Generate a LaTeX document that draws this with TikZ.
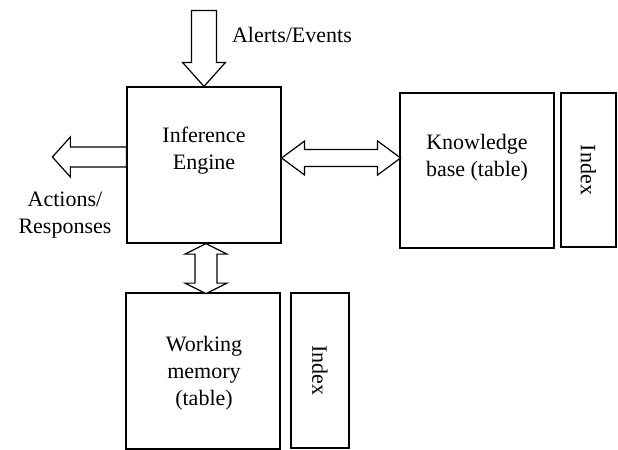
\documentclass[tikz,border=0pt]{standalone}
\usepackage{fontspec}
\setmainfont{Liberation Serif}
\begin{document}
\begin{tikzpicture}[x=0.5pt,y=-0.5pt,
  font=\fontsize{11}{13.4}\selectfont,
  box/.style={draw,line width=0.6pt,inner sep=0pt},
  fat/.style={draw,line width=0.6pt,fill=white,line join=miter}]
\useasboundingbox (0,0) rectangle (618,450);

% boxes
\node[box,minimum width=77pt,minimum height=78pt] (engine) at (204,165) {};
\node[box,minimum width=77pt,minimum height=77.5pt] (kb) at (477,170.5) {};
\node[box,minimum width=27.5pt,minimum height=77pt] (kbidx) at (588.5,170) {};
\node[box,minimum width=77pt,minimum height=78pt] (wm) at (203,371) {};
\node[box,minimum width=29pt,minimum height=77.5pt] (wmidx) at (320,370.5) {};

% texts
\node[align=center] (enginetxt) at (204,151) {Inference\\Engine};
\node[align=center] (kbtxt) at (477,158) {Knowledge\\base (table)};
\node[align=center] (wmtxt) at (204,373) {Working\\memory\\(table)};
\node[rotate=-90] (kbidxtxt) at (kbidx) {Index};
\node[rotate=-90] (wmidxtxt) at (wmidx) {Index};
\node[anchor=base west] (alerts) at (225,42) {Alerts/Events};
\node[align=center] (actions) at (65,215) {Actions/\\Responses};

% block arrows
\draw[fat] (engine.north) -- ++(-21.5,-24) -- ++(9,0) -- ++(0,-52)
  -- ++(25,0) -- ++(0,52) -- ++(9,0) -- cycle;
\draw[fat] ([yshift=4pt]engine.west) -- ++(0,-10) -- ++(-56,0) -- ++(0,-10)
  -- ++(-18,20) -- ++(18,20) -- ++(0,-10) -- ++(56,0) -- cycle;
\draw[fat] ([yshift=3.5pt]engine.east) -- ++(23,-17) -- ++(0,8.5) -- ++(73,0)
  -- ++(0,-8.5) -- ++(23,17) -- ++(-23,17) -- ++(0,-8.5) -- ++(-73,0)
  -- ++(0,8.5) -- cycle;
\draw[fat] ([xshift=1pt]engine.south) -- ++(21,10.5) -- ++(-10,0) -- ++(0,29)
  -- ++(10,0) -- ++(-21,10.5) -- ++(-21,-10.5) -- ++(10,0) -- ++(0,-29)
  -- ++(-10,0) -- cycle;
\end{tikzpicture}
\end{document}
